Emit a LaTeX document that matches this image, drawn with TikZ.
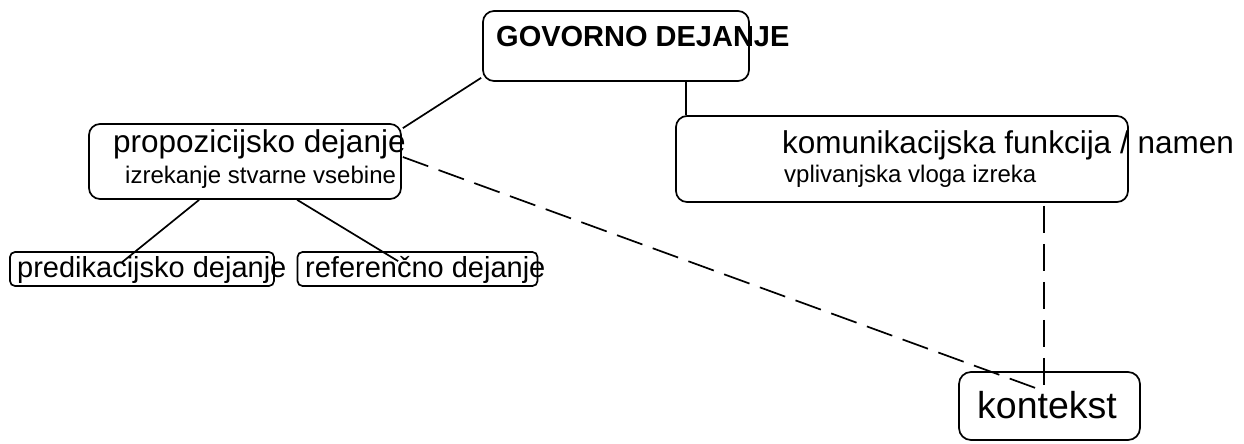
\documentclass[tikz,border=0pt]{standalone}
\usepackage{fontspec}
\setmainfont{Liberation Sans}
\usetikzlibrary{calc}
\tikzset{
  boxst/.style={draw, line width=1.7pt, rounded corners=11pt, inner sep=0pt},
  txt/.style={inner sep=0pt, anchor=base west},
  link/.style={line width=1.7pt},
  dlink/.style={line width=1.7pt, dash pattern=on 27pt off 11pt}
}
\newcommand{\fsz}[1]{\fontsize{#1}{#1}\selectfont}
\begin{document}
\begin{tikzpicture}[x=1pt,y=-1pt]
\useasboundingbox (0,0) rectangle (1244,444);
% boxes
\node[boxst, minimum width=266pt, minimum height=70pt] (gov) at (616,46) {};
\node[boxst, minimum width=312pt, minimum height=75pt] (prop) at (245,161.5) {};
\node[boxst, minimum width=452pt, minimum height=86pt] (kom) at (902,159) {};
\node[boxst, minimum width=264pt, minimum height=34pt, rounded corners=5pt] (pred) at (142,269) {};
\node[boxst, minimum width=240pt, minimum height=34pt, rounded corners=5pt] (ref) at (417.5,269) {};
\node[boxst, minimum width=181pt, minimum height=68pt, rounded corners=12pt] (kon) at (1049.5,406) {};
% texts
\node[txt] (tgov) at (496,47) {\fsz{29}\bfseries GOVORNO DEJANJE};
\node[txt] (tprop) at (113,152) {\fsz{31.5}propozicijsko dejanje};
\node[txt] (tprop2) at (125,183) {\fsz{24}izrekanje stvarne vsebine};
\node[txt] (tkom) at (782,153) {\fsz{31.5}komunikacijska funkcija / namen};
\node[txt] (tkom2) at (784,182) {\fsz{24}vplivanjska vloga izreka};
\node[txt] (tpred) at (17,277) {\fsz{29}predikacijsko dejanje};
\node[txt] (tref) at (305,277) {\fsz{29}referenčno dejanje};
\node[txt] (tkon) at (977,418) {\fsz{37.5}kontekst};
% connectors
\draw[link] ($(gov.south west)+(-1,-4)$) -- ($(prop.north east)+(1,5)$);
\draw[link] ($(gov.south west)+(204,0)$) -- ($(kom.north west)+(11,0)$);
\draw[link] ($(prop.south west)+(111,0)$) -- ($(pred.north west)+(113,11)$);
\draw[link] ($(prop.south west)+(209,0)$) -- ($(ref.north west)+(101.5,10)$);
\draw[dlink] ($(prop.east)+(1,-4.5)$) -- ($(kon.north west)+(86,20)$);
\draw[dlink] ($(kom.south west)+(369,3)$) -- ($(kon.north west)+(86,15)$);
\end{tikzpicture}
\end{document}
